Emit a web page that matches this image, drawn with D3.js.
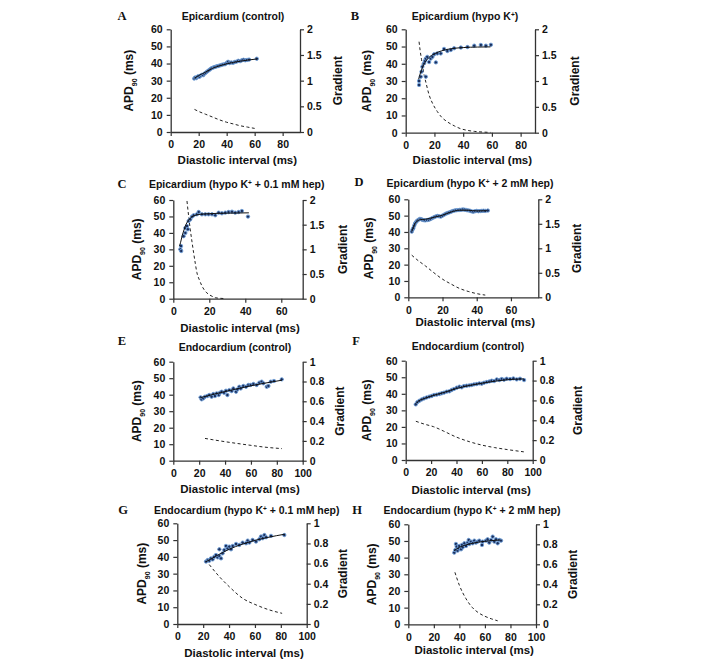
<!DOCTYPE html>
<html><head><meta charset="utf-8">
<script src="https://cdn.jsdelivr.net/npm/d3@7"></script>
<style>
body{margin:0;background:#fff}
svg text{font-family:"Liberation Sans",Arial,sans-serif;font-weight:bold;fill:#111}
</style>
</head><body>
<svg id="chart" width="708" height="660"></svg>
<script>
// ---------- DATA ----------
const apdTicks = [0,10,20,30,40,50,60];
const xTicks80 = [0,20,40,60,80];
const xTicks60 = [0,20,40,60];
const xTicks100 = [0,20,40,60,80,100];
const gradTicksEpi = [0,0.5,1,1.5,2];
const gradTicksEndo = [0,0.2,0.4,0.6,0.8,1];

const titles = ["Epicardium (control)","Epicardium (hypo K^+)","Epicardium (hypo K^+ + 0.1 mM hep)","Epicardium (hypo K^+ + 2 mM hep)",
  "Endocardium (control)","Endocardium (control)","Endocardium (hypo K^+ + 0.1 mM hep)","Endocardium (hypo K^+ + 2 mM hep)"];
const letters = ["A","B","C","D","E","F","G","H"];

const scatterA = [[16.8,31.2],[17.5,31.8],[18.3,31.5],[19,32.2],[19.8,32.6],[20.6,32.3],[21.5,33],[22.3,33.4],[23.2,33.2],[24,34],[25,34.6],[26,35.3],[27,35.9],[28,36.5],[29,37.2],[30,37.5],[31,37.9],[32,38.1],[33,38.4],[34,38.6],[35.2,38.9],[36.4,39.2],[37.6,39.5],[38.8,39.6],[40,40.3],[41,41],[42,40.3],[43.3,40.6],[44.6,40.4],[45.8,40.9],[47,41.1],[48.3,41.6],[49.6,41.4],[50.8,41.9],[52,42.2],[53.3,41.9],[54.6,42.1],[56,42.3],[61.5,42.8]];
const fitA = [[17,31.5],[20,33],[25,35],[30,37.2],[35,38.7],[40,39.8],[45,40.7],[50,41.4],[55,42],[62,42.7]];
const gradA = [[17,0.44],[20,0.4],[25,0.345],[30,0.29],[35,0.235],[40,0.19],[45,0.155],[50,0.12],[55,0.095],[60,0.07]];

const scatterB = [[9.3,27.7],[9.3,30],[10.5,32.5],[11,35.4],[11.6,38.3],[12.8,40.3],[13.3,41.6],[14,32.5],[14,43],[15,44],[16.3,41],[17.4,43],[18.6,44],[19.8,45.5],[21,40.8],[22,46],[24.4,46],[26.7,48.6],[29,47.4],[31.4,48],[33.7,49],[38.4,49.4],[43,49.7],[47.7,50.5],[52.3,50.9],[55.8,50.5],[59.3,51]];
const fitB = [[9,31],[10,34],[12,38.5],[14,41.5],[16,43.5],[20,45.8],[25,47.5],[30,48.5],[40,49.4],[50,49.7],[59,49.8]];
const gradB = [[9.3,1.76],[10,1.6],[11,1.42],[12.8,1.12],[14,0.98],[16.3,0.73],[19,0.55],[22,0.41],[25,0.3],[29,0.21],[34,0.13],[38,0.08],[43,0.045],[48,0.025],[54,0.012],[59,0.006]];

const scatterC = [[3.9,30],[4.4,29],[4.3,32],[5.7,38],[6.7,40],[6.7,43],[7.6,44.2],[8.1,42.2],[8.5,47.2],[9.4,48.2],[10.4,49.9],[11.3,50.7],[13.1,51.3],[14.1,52.7],[15.9,51.3],[17.8,51.3],[19.6,51.3],[21.5,51.3],[23.3,50.7],[25.2,52.3],[27,51.9],[28.9,52.3],[30.7,52.7],[32.6,52.9],[34.4,52.3],[36.3,52.7],[38.1,53.3],[41.5,49.9]];
const fitC = [[3.5,32],[4,34],[5,38.5],[6,42],[7,45],[8,47],[9,48.5],[10,49.5],[12,50.6],[15,51.3],[20,51.7],[30,52],[42,52.2]];
const gradC = [[7.6,1.98],[8.5,1.68],[9.4,1.41],[10.4,1.15],[11.3,0.93],[12.2,0.72],[13.1,0.53],[14.5,0.38],[15.9,0.26],[17.8,0.15],[19.6,0.09],[21.5,0.05],[23.3,0.02],[26,0.008],[29,0.002]];

const scatterD = [[2,40.2],[2.5,41.5],[3,42.5],[3.5,44],[4,45.3],[4.6,46.2],[5.2,46.9],[6,47.5],[6.8,48],[7.6,47.8],[8.4,47.4],[9.2,47.2],[10,47.1],[11,47.3],[12,47.5],[13,47.9],[14,48.5],[15,49],[16,49.5],[17,49.8],[18,49.6],[19,49.4],[20,50],[21,50.6],[22,51.2],[23,51.6],[24,52],[25,52.4],[26,52.8],[27,53.1],[28,53.3],[29,53.4],[30,53.5],[31,53.6],[32,53.8],[33,53.6],[34,53.4],[35,53.2],[36,53],[37,52.6],[38,52.4],[39,52.7],[40,52.9],[41,52.7],[42,52.8],[43,52.9],[44,53],[45,52.9],[46.5,53.1]];
const fitD = [[2,40.5],[3,43],[4,45.2],[5,46.5],[7,47.5],[10,47.8],[15,49],[20,50.3],[25,52.2],[30,53.3],[35,53.3],[40,52.9],[46,53]];
const gradD = [[2,0.86],[5,0.77],[10,0.64],[15,0.5],[20,0.37],[25,0.27],[30,0.18],[35,0.12],[40,0.075],[45,0.045]];

const scatterE = [[21.1,38.4],[21.9,37.2],[23.2,37.8],[24.5,38.8],[26.3,39.2],[27.8,39.8],[29.6,38.8],[30.9,40.4],[32.2,39.2],[33.5,40.8],[35.1,39.8],[36.1,41.2],[37.4,41.8],[39.2,41.2],[40.7,42.4],[41.8,39.8],[43.3,42.8],[45.1,42.2],[46.4,43.8],[48.5,41.8],[49.5,43.2],[51,44.8],[52.1,43.8],[54.1,45.3],[56.2,44.8],[58,45.9],[59.8,45.9],[61.9,46.5],[64.4,45.9],[66.5,47.3],[68.3,47.9],[69.6,46.9],[72.2,44.8],[73.5,45.3],[75.3,47.9],[77.8,48.3],[83.8,49.3]];
const fitE = [[21,38.2],[30,40],[40,41.9],[50,43.7],[60,45.4],[70,46.9],[84,48.8]];
const gradE = [[24.5,0.225],[30,0.213],[40,0.192],[50,0.173],[60,0.155],[70,0.138],[84,0.122]];

const scatterF = [[7.9,33.6],[9.2,35],[10.8,35.8],[12.6,36.6],[14.4,37.2],[16.5,37.8],[18.6,38.3],[20.5,38.7],[22.3,39.3],[24.4,39.5],[26.5,39.9],[28.3,40.3],[30.2,40.7],[32.3,41.3],[34.4,41.5],[36.2,42.3],[38,42.9],[40.2,43.7],[42.3,44.3],[44.1,43.9],[45.9,44.7],[48,44.9],[50.1,45.1],[52,45.3],[53.8,45.7],[55.9,45.9],[58,46.3],[59.8,46.1],[61.7,46.7],[63.8,47.1],[65.9,47.5],[67.7,47.9],[69.6,47.7],[71.7,48.7],[73.8,48.3],[75.6,48.9],[77.4,48.5],[79.5,49.1],[82.2,48.9],[84.8,49.3],[87.4,48.7],[90,49.1],[93.2,48.3]];
const fitF = [[8,34],[10,35.5],[15,37.2],[20,38.6],[30,40.8],[40,43.2],[50,45],[60,46.4],[70,47.6],[80,48.5],[93,49]];
const gradF = [[8,0.39],[15,0.36],[22,0.335],[30,0.29],[40,0.23],[50,0.185],[60,0.15],[70,0.125],[80,0.105],[93,0.082]];

const scatterG = [[22.2,37.2],[23.5,38.1],[24.7,37.7],[26,39.1],[27.3,38.5],[28.6,40.1],[29.9,41.1],[31.2,39.7],[32.5,40.5],[32.5,44.5],[33.8,39.1],[35,42.1],[36.3,44.1],[37.6,46.5],[38.9,45.1],[40.2,46.1],[41.5,44.5],[42.8,46.5],[45.4,47.7],[47.9,47.1],[50.5,48.5],[53.1,48.1],[54.4,49.7],[55.7,48.5],[58.2,50.1],[60.8,49.1],[63.4,50.5],[64.7,52.1],[66,51.1],[67.3,53],[68.6,51.7],[72.4,52.5],[82.7,53]];
const fitG = [[22,37],[30,40.5],[40,44.5],[50,47.5],[60,49.8],[70,51.6],[83,53.5]];
const gradG = [[24.7,0.59],[32.5,0.47],[40.2,0.37],[50.5,0.255],[60.8,0.19],[71.1,0.14],[81,0.106]];

const scatterH = [[36,43],[36.8,44.6],[37.3,48.2],[37.9,46.6],[38.6,44.2],[39.4,45.6],[39.9,47],[41.3,45],[42,47.6],[42.6,46.2],[43.9,48.6],[45.2,47],[46.5,49],[47.3,50.6],[47.8,48.2],[49.1,49.6],[50.4,48.6],[51.7,50.2],[53,49],[54.3,49.6],[55.6,50.2],[57.7,47.6],[58.2,49.6],[60.8,50.2],[62.1,51],[63.4,49],[64.8,50.6],[66.1,52.6],[67.4,49.6],[68.7,51],[70,48.6],[71.3,50.6],[72.6,50.2]];
const fitH = [[36,44.2],[40,46.2],[45,47.6],[50,48.6],[55,49.3],[60,49.8],[65,50.2],[72,50.6]];
const gradH = [[36.5,0.52],[40,0.39],[45,0.26],[50,0.17],[55,0.115],[60,0.08],[65,0.055],[70,0.035]];

// ---------- LAYOUT ----------
const panels = [
 {scatter:scatterA, fit:fitA, grad:gradA, xMax:92.4, xTicks:xTicks80, gMax:2, gTicks:gradTicksEpi,
  box:[170.7,29.3,300,132], title:[233,16], letter:[122,15.5], xTitleY:160, apdX:129, gradX:338},
 {scatter:scatterB, fit:fitB, grad:gradB, xMax:90, xTicks:xTicks80, gMax:2, gTicks:gradTicksEpi,
  box:[405.7,29.3,535,132.7], title:[465,16], letter:[355,15.5], xTitleY:160, apdX:367, gradX:575},
 {scatter:scatterC, fit:fitC, grad:gradC, xMax:71.9, xTicks:xTicks60, gMax:2, gTicks:gradTicksEpi,
  box:[173.3,200,302.7,298.7], title:[236.7,184], letter:[122,184], xTitleY:327.5, apdX:136.7, gradX:343},
 {scatter:scatterD, fit:fitD, grad:gradD, xMax:76, xTicks:xTicks60, gMax:2, gTicks:gradTicksEpi,
  box:[408.3,199.3,538.3,297.3], title:[470,183], letter:[359,182], xTitleY:321.5, apdX:369, gradX:577},
 {scatter:scatterE, fit:fitE, grad:gradE, xMax:100, xTicks:xTicks100, gMax:1, gTicks:gradTicksEndo,
  box:[173.3,361.7,302.7,460.7], title:[235,347], letter:[122,341], xTitleY:489, apdX:136.7, gradX:340},
 {scatter:scatterF, fit:fitF, grad:gradF, xMax:100, xTicks:xTicks100, gMax:1, gTicks:gradTicksEndo,
  box:[405.7,360.7,532.7,460], title:[468,346.7], letter:[356,341], xTitleY:490, apdX:367, gradX:578},
 {scatter:scatterG, fit:fitG, grad:gradG, xMax:100, xTicks:xTicks100, gMax:1, gTicks:gradTicksEndo,
  box:[177.3,523.3,306.7,624], title:[246.7,510], letter:[123,510], xTitleY:653, apdX:141.7, gradX:343},
 {scatter:scatterH, fit:fitH, grad:gradH, xMax:100, xTicks:xTicks100, gMax:1, gTicks:gradTicksEndo,
  box:[408.3,524.3,536,624.3], title:[472,510.7], letter:[357,510], xTitleY:650, apdX:371.7, gradX:573}
];

const svg = d3.select("#chart");
const axisColor = "#333";

function addTitle(sel, str){
  const parts = str.split("^+");
  parts.forEach((p,i)=>{
    sel.append("tspan").text(p);
    if(i < parts.length-1){
      sel.append("tspan").attr("baseline-shift","super").attr("font-size","6.5px").text("+");
    }
  });
}

panels.forEach((p,i)=>{
  const [l,t,r,b] = p.box;
  const x = d3.scaleLinear().domain([0,p.xMax]).range([l,r]);
  const y = d3.scaleLinear().domain([0,60]).range([b,t]);
  const y2 = d3.scaleLinear().domain([0,p.gMax]).range([b,t]);
  const g = svg.append("g");

  // axes
  const ax = g.append("g").attr("transform",`translate(0,${b})`)
    .call(d3.axisBottom(x).tickValues(p.xTicks).tickSize(4).tickSizeOuter(0).tickPadding(5).tickFormat(d=>String(d)));
  const ay = g.append("g").attr("transform",`translate(${l},0)`)
    .call(d3.axisLeft(y).tickValues(apdTicks).tickSize(4).tickSizeOuter(0).tickPadding(4).tickFormat(d=>String(d)));
  const ay2 = g.append("g").attr("transform",`translate(${r},0)`)
    .call(d3.axisRight(y2).tickValues(p.gTicks).tickSize(4).tickSizeOuter(0).tickPadding(3).tickFormat(d=>String(d)));
  [ax,ay,ay2].forEach(a=>{
    a.selectAll("path.domain").attr("stroke",axisColor).attr("stroke-width",1.3);
    a.selectAll(".tick line").attr("stroke",axisColor).attr("stroke-width",1.2);
    a.selectAll(".tick text").attr("font-size","10.5px").attr("font-family",'"Liberation Sans",Arial,sans-serif').attr("font-weight","bold").attr("fill","#111");
  });

  // gradient dashed curve
  g.append("path").datum(p.grad)
    .attr("d", d3.line().x(d=>x(d[0])).y(d=>y2(d[1])).curve(d3.curveMonotoneX))
    .attr("fill","none").attr("stroke","#222").attr("stroke-width",1).attr("stroke-dasharray","3,2.5");

  // scatter
  g.append("g").selectAll("circle").data(p.scatter).join("circle")
    .attr("cx",d=>x(d[0])).attr("cy",d=>y(d[1])).attr("r",1.7)
    .attr("fill","#1c2f5c").attr("stroke","#6f9fd8").attr("stroke-width",0.9);

  // fit line
  g.append("path").datum(p.fit)
    .attr("d", d3.line().x(d=>x(d[0])).y(d=>y(d[1])).curve(d3.curveMonotoneX))
    .attr("fill","none").attr("stroke","#111").attr("stroke-width",1);

  // titles
  const tt = g.append("text").attr("x",p.title[0]).attr("y",p.title[1]).attr("dy","0.35em")
    .attr("text-anchor","middle").attr("font-size","10.5px");
  addTitle(tt, titles[i]);

  g.append("text").attr("x",p.letter[0]).attr("y",p.letter[1]).attr("dy","0.35em")
    .attr("text-anchor","middle").attr("font-size","12.5px")
    .style("font-family",'"Liberation Serif","Times New Roman",serif').text(letters[i]);

  g.append("text").attr("x",(l+r)/2 + 2).attr("y",p.xTitleY).attr("dy","0.35em")
    .attr("text-anchor","middle").attr("font-size","11.5px").text("Diastolic interval (ms)");

  const yc = (t+b)/2;
  const at = g.append("text").attr("transform",`translate(${p.apdX},${yc}) rotate(-90)`)
    .attr("dy","0.35em").attr("text-anchor","middle").attr("font-size","12px");
  at.append("tspan").text("APD");
  at.append("tspan").attr("baseline-shift","sub").attr("font-size","7px").text("90");
  at.append("tspan").text(" (ms)");

  g.append("text").attr("transform",`translate(${p.gradX},${yc}) rotate(-90)`)
    .attr("dy","0.35em").attr("text-anchor","middle").attr("font-size","12px").text("Gradient");
});
</script>
</body></html>
